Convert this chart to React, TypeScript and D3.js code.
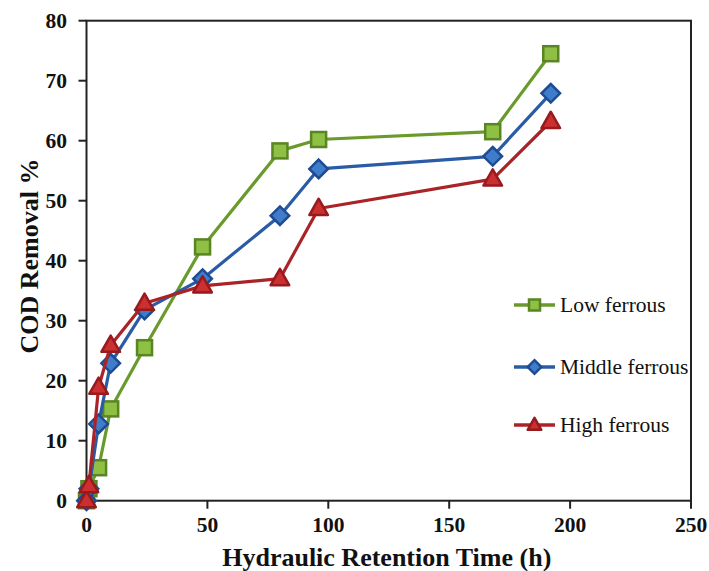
import React from "react";
import * as d3 from "d3";

const hours = [0, 1, 5, 10, 24, 48, 80, 96, 168, 192];
const lowFerrous = [0, 2, 5.5, 15.3, 25.5, 42.3, 58.3, 60.2, 61.5, 74.5];
const middleFerrous = [0, 2, 12.8, 22.9, 31.8, 37, 47.5, 55.3, 57.4, 67.9];
const highFerrous = [0, 2.5, 18.9, 25.9, 32.9, 35.8, 37, 48.7, 53.6, 63.2];
const seriesNames = ["Low ferrous", "Middle ferrous", "High ferrous"];
const xTicks = [0, 50, 100, 150, 200, 250];
const yTicks = [0, 10, 20, 30, 40, 50, 60, 70, 80];

const W = 709;
const H = 571;
const left = 86.5, right = 691, top = 20.7, bottom = 500.7;

const styles = [
  { line: "#6B9A2C", fill: "#8DC043", stroke: "#5B8524", shape: "square" },
  { line: "#2A5CA6", fill: "#3F7DCB", stroke: "#1E4B92", shape: "diamond" },
  { line: "#A92328", fill: "#CC2F2F", stroke: "#961A1E", shape: "triangle" },
];

function Marker({ shape, x, y, fill, stroke, s }: any) {
  if (shape === "square") {
    return <rect x={x - s / 2} y={y - s / 2} width={s} height={s} fill={fill} stroke={stroke} strokeWidth={2.5} />;
  }
  if (shape === "diamond") {
    const r = s * 0.62;
    return <path d={`M${x},${y - r}L${x + r},${y}L${x},${y + r}L${x - r},${y}Z`} fill={fill} stroke={stroke} strokeWidth={2.5} />;
  }
  const r = s * 0.62;
  return (
    <path
      d={`M${x},${y - r * 1.05}L${x + r},${y + r * 0.7}L${x - r},${y + r * 0.7}Z`}
      fill={fill}
      stroke={stroke}
      strokeWidth={2.5}
      strokeLinejoin="round"
    />
  );
}

export default function App() {
  const x = d3.scaleLinear().domain([0, 250]).range([left, right]);
  const y = d3.scaleLinear().domain([0, 80]).range([bottom, top]);
  const data = [lowFerrous, middleFerrous, highFerrous];
  const line = d3
    .line<number>()
    .x((_, i) => x(hours[i]))
    .y((d) => y(d));

  const legendY = [305, 367, 425];
  const serif = "'Liberation Serif', 'Times New Roman', serif";

  return (
    <svg width={W} height={H} style={{ position: "absolute", left: 0, top: 0, background: "#fff" }} fontFamily={serif}>
      <rect x={0} y={0} width={W} height={H} fill="#fff" />
      <rect x={left} y={top} width={right - left} height={bottom - top} fill="none" stroke="#222" strokeWidth={2} />
      {yTicks.map((t) => (
        <g key={"y" + t}>
          <line x1={left - 8} x2={left} y1={y(t)} y2={y(t)} stroke="#222" strokeWidth={2} />
          <text x={67} y={y(t)} dy="0.34em" textAnchor="end" fontSize={21.5} fontWeight="bold" fill="#111">
            {t}
          </text>
        </g>
      ))}
      {xTicks.map((t) => (
        <g key={"x" + t}>
          <line x1={x(t)} x2={x(t)} y1={bottom} y2={bottom + 8} stroke="#222" strokeWidth={2} />
          <text x={x(t)} y={532} textAnchor="middle" fontSize={21.5} fontWeight="bold" fill="#111">
            {t}
          </text>
        </g>
      ))}
      <text x={(left + right) / 2 - 2} y={566} textAnchor="middle" fontSize={26} fontWeight="bold" fill="#111">
        Hydraulic Retention Time (h)
      </text>
      <text
        transform={`translate(38,${256}) rotate(-90)`}
        textAnchor="middle"
        fontSize={26}
        fontWeight="bold"
        fill="#111"
      >
        COD Removal %
      </text>
      {data.map((vals, si) => (
        <g key={"s" + si}>
          <path d={line(vals) || ""} fill="none" stroke={styles[si].line} strokeWidth={3.2} strokeLinejoin="round" />
          {vals.map((v, i) => (
            <Marker
              key={i}
              shape={styles[si].shape}
              x={x(hours[i])}
              y={y(v)}
              fill={styles[si].fill}
              stroke={styles[si].stroke}
              s={15}
            />
          ))}
        </g>
      ))}
      {seriesNames.map((n, i) => (
        <g key={"l" + i}>
          <line x1={514} x2={555} y1={legendY[i]} y2={legendY[i]} stroke={styles[i].line} strokeWidth={3.5} />
          <Marker shape={styles[i].shape} x={534.5} y={legendY[i]} fill={styles[i].fill} stroke={styles[i].stroke} s={11} />
          <text x={560} y={legendY[i]} dy="0.33em" fontSize={21.5} fill="#111">
            {n}
          </text>
        </g>
      ))}
    </svg>
  );
}
